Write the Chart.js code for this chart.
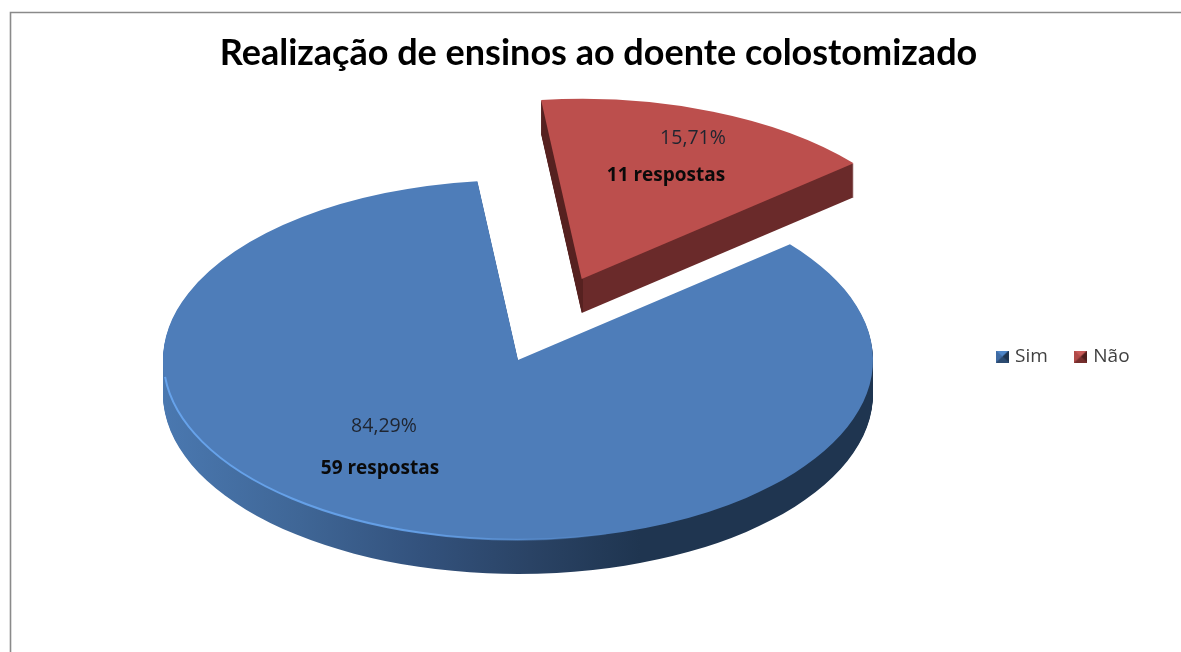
<!DOCTYPE html>
<html><head><meta charset="utf-8">
<style>html,body{margin:0;padding:0;background:#fff;overflow:hidden}canvas{display:block}</style>
<script src="https://cdn.jsdelivr.net/npm/chart.js@4"></script></head>
<body><canvas id="c" width="1181" height="652"></canvas>
<script>
const categories = ['Sim', 'Não'];
const respostas = [59, 11];
const sliceColors = ['#4e7db9', '#bc4f4d'];
const explodeFractions = [0, 0.485];
const chartTitle = 'Realização de ensinos ao doente colostomizado';

const CX = 518, CY = 360, K = 0.507, DEPTH = 34, R = 355;

function bevel(base, dark, light) {
  const c = document.createElement('canvas'); c.width = 13; c.height = 12;
  const g = c.getContext('2d');
  g.fillStyle = base; g.fillRect(0, 0, 13, 12);
  g.fillStyle = light; g.beginPath(); g.moveTo(0,0); g.lineTo(13,0); g.lineTo(6.5,6); g.closePath(); g.fill();
  g.fillStyle = dark; g.beginPath(); g.moveTo(13,0); g.lineTo(13,12); g.lineTo(6.5,6); g.closePath(); g.fill();
  g.fillStyle = dark; g.globalAlpha = .6; g.beginPath(); g.moveTo(0,12); g.lineTo(13,12); g.lineTo(6.5,6); g.closePath(); g.fill();
  return c;
}
const markers = [bevel('#3f6ba3', '#1f3550', '#4f86c8'), bevel('#b04a48', '#4e1d1c', '#c85a58')];

function xGrad(ctx, stops, shift) {
  const a = stops[0][0], b = stops[stops.length-1][0];
  const g = ctx.createLinearGradient(a - shift, 0, b - shift, 0);
  stops.forEach(s => g.addColorStop((s[0]-a)/(b-a), s[1]));
  return g;
}
const sideStops = [
  [[163,'#4a78b0'],[300,'#3f6696'],[420,'#33527d'],[530,'#2a4365'],[640,'#1f3550'],[875,'#1f3550']],
  [[540,'#562120'],[582.5,'#562120'],[583.5,'#6a2a2a'],[860,'#6a2a2a']]
];

const pie3d = {
  id: 'pie3d',
  afterLayout(chart) {
    const l = chart.legend, w = l.right - l.left, h = l.bottom - l.top;
    l.left = 969.5; l.right = 969.5 + w; l.top = 317; l.bottom = 317 + h;
  },
  beforeDraw(chart) {
    const ctx = chart.ctx;
    ctx.save();
    ctx.strokeStyle = '#8a8a8a'; ctx.lineWidth = 1.6;
    ctx.beginPath(); ctx.moveTo(10.5, 652); ctx.lineTo(10.5, 12.5); ctx.lineTo(1181, 12.5); ctx.stroke();
    ctx.restore();
  },
  beforeDatasetsDraw(chart) {
    const ctx = chart.ctx, arcs = chart.getDatasetMeta(0).data;
    arcs.forEach((arc, i) => {
      const p = arc.getProps(['x','y','startAngle','endAngle','outerRadius']);
      const mid = (p.startAngle + p.endAngle) / 2;
      const off = explodeFractions[i] * p.outerRadius;
      const ox = CX + Math.cos(mid) * off, oy = CY + Math.sin(mid) * off * K;
      // side wall
      ctx.save();
      ctx.fillStyle = xGrad(ctx, sideStops[i], ox);
      for (let d = DEPTH; d >= 1; d--) {
        ctx.save();
        ctx.translate(ox, oy + d); ctx.scale(1, K);
        ctx.beginPath(); ctx.moveTo(0, 0);
        ctx.arc(0, 0, p.outerRadius, p.startAngle, p.endAngle);
        ctx.closePath(); ctx.fill();
        ctx.restore();
      }
      ctx.restore();
      // top face, drawn by the library's arc element
      ctx.save();
      ctx.translate(ox, oy); ctx.scale(1, K); ctx.translate(-p.x, -p.y);
      arc.draw(ctx);
      ctx.restore();
      // rim highlight on the lower-left edge of the big slice
      if (i === 0) {
        ctx.save();
        ctx.save();
        ctx.translate(ox, oy); ctx.scale(1, K);
        ctx.beginPath(); ctx.arc(0, 0, p.outerRadius - 0.5, Math.PI * 0.97, Math.PI * 0.42, true);
        ctx.restore();
        ctx.strokeStyle = xGrad(ctx, [[165,'rgba(104,165,238,.95)'],[420,'rgba(104,165,238,.85)'],[620,'rgba(104,165,238,0)']], 0);
        ctx.lineWidth = 2; ctx.stroke();
        ctx.restore();
      }
    });
    return false;
  },
  afterDraw(chart) {
    const ctx = chart.ctx, total = respostas.reduce((a, b) => a + b, 0);
    const spots = [[384, 426, 380, 469], [693, 138, 666, 176]];
    ctx.save();
    ctx.textAlign = 'center'; ctx.textBaseline = 'middle';
    respostas.forEach((v, i) => {
      ctx.fillStyle = '#1f2530';
      ctx.font = '400 19.5px "Open Sans"';
      ctx.fillText((v / total * 100).toFixed(2).replace('.', ',') + '%', spots[i][0], spots[i][1]);
      ctx.fillStyle = '#0a0a0a';
      ctx.font = '700 19px "Open Sans"';
      ctx.fillText(v + ' respostas', spots[i][2], spots[i][3]);
    });
    ctx.restore();
  }
};

new Chart(document.getElementById('c'), {
  type: 'pie',
  data: { labels: categories, datasets: [{ data: respostas, backgroundColor: sliceColors, borderWidth: 0, hoverOffset: 0 }] },
  options: {
    responsive: false, animation: false,
    rotation: 50, radius: R,
    layout: { padding: { left: 16 } },
    plugins: {
      tooltip: { enabled: false },
      title: { display: true, text: chartTitle, color: '#000', align: 'center',
        font: { family: 'Lato', weight: '700', size: 36 }, padding: { top: 32, bottom: 10 } },
      legend: { position: 'bottom', align: 'start',
        labels: { usePointStyle: true, boxWidth: 6, boxHeight: 12, padding: 30, color: '#404040',
          font: { family: '"Open Sans"', size: 19 },
          generateLabels(chart) {
            return Chart.overrides.pie.plugins.legend.labels.generateLabels(chart)
              .map((it, i) => Object.assign(it, { pointStyle: markers[i] }));
          } } }
    }
  },
  plugins: [pie3d]
});
</script></body></html>
